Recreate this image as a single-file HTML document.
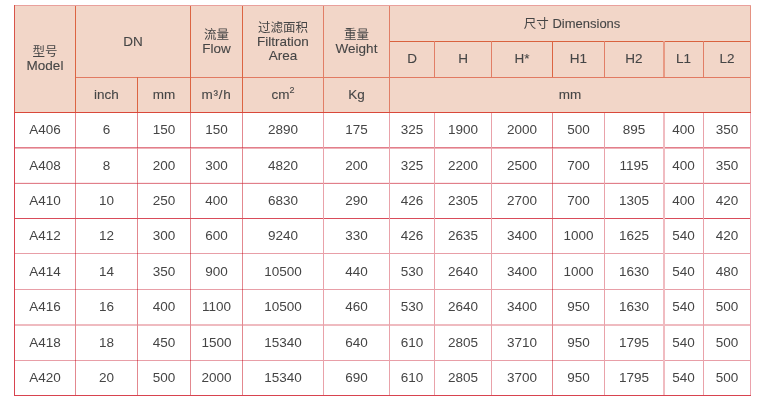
<!DOCTYPE html>
<html><head><meta charset="utf-8"><style>
html,body{margin:0;padding:0;background:#fff;width:759px;height:403px;overflow:hidden}
body{position:relative;font-family:"Liberation Sans","Noto Sans CJK SC",sans-serif;font-size:13.5px;color:#454545}
div{position:absolute}
.c{display:flex;align-items:center;justify-content:center;text-align:center;line-height:14px;white-space:nowrap}
sup{font-size:9px;line-height:0;vertical-align:6px}
.z{font-size:12.5px}
p{margin:0}
.h{-webkit-text-stroke:0.1px #4a4a4a}
.h .z{-webkit-text-stroke:0}
</style></head><body>
<div style="left:14px;top:5px;width:737px;height:107px;background:#f2d6c8"></div>
<div style="left:14px;top:5px;width:737px;height:1px;background:#e9a09c"></div>
<div style="left:389px;top:41px;width:361px;height:1px;background:#d9623e"></div>
<div style="left:75px;top:77px;width:675px;height:1px;background:#e27a62"></div>
<div style="left:14px;top:5px;width:1px;height:107px;background:#d8544a"></div>
<div style="left:75px;top:6px;width:1px;height:106px;background:#dc6442"></div>
<div style="left:137px;top:77px;width:1px;height:35px;background:#dc6442"></div>
<div style="left:190px;top:6px;width:1px;height:106px;background:#dc6442"></div>
<div style="left:242px;top:6px;width:1px;height:106px;background:#dc6442"></div>
<div style="left:323px;top:6px;width:1px;height:106px;background:#e17e66"></div>
<div style="left:389px;top:6px;width:1px;height:106px;background:#e17e66"></div>
<div style="left:434px;top:41px;width:1px;height:36px;background:#e17e66"></div>
<div style="left:491px;top:41px;width:1px;height:36px;background:#e17e66"></div>
<div style="left:552px;top:41px;width:1px;height:36px;background:#dc6442"></div>
<div style="left:604px;top:41px;width:1px;height:36px;background:#e17e66"></div>
<div style="left:663px;top:41px;width:1px;height:36px;background:#e89a84"></div>
<div style="left:664px;top:41px;width:1px;height:36px;background:#e89a84"></div>
<div style="left:703px;top:41px;width:1px;height:36px;background:#e17e66"></div>
<div style="left:750px;top:6px;width:1px;height:106px;background:#e59282"></div>
<div style="left:14px;top:147px;width:737px;height:1px;background:#e27f8b"></div>
<div style="left:14px;top:148px;width:737px;height:1px;background:#f0b2b9"></div>
<div style="left:14px;top:182px;width:737px;height:1px;background:#fbeaec"></div>
<div style="left:14px;top:183px;width:737px;height:1px;background:#e17f8a"></div>
<div style="left:14px;top:218px;width:737px;height:1px;background:#d94c5a"></div>
<div style="left:14px;top:253px;width:737px;height:1px;background:#e89ea7"></div>
<div style="left:14px;top:289px;width:737px;height:1px;background:#e89ea7"></div>
<div style="left:14px;top:324px;width:737px;height:1px;background:#efbbc0"></div>
<div style="left:14px;top:325px;width:737px;height:1px;background:#efbbc0"></div>
<div style="left:14px;top:360px;width:737px;height:1px;background:#e89ea7"></div>
<div style="left:75px;top:112px;width:1px;height:283px;background:#e3888f"></div>
<div style="left:137px;top:112px;width:1px;height:283px;background:#e3888f"></div>
<div style="left:190px;top:112px;width:1px;height:283px;background:#e3888f"></div>
<div style="left:242px;top:112px;width:1px;height:283px;background:#e3888f"></div>
<div style="left:323px;top:112px;width:1px;height:283px;background:#e9a2aa"></div>
<div style="left:389px;top:112px;width:1px;height:283px;background:#e9a2aa"></div>
<div style="left:434px;top:112px;width:1px;height:283px;background:#e9a2aa"></div>
<div style="left:491px;top:112px;width:1px;height:283px;background:#e9a2aa"></div>
<div style="left:552px;top:112px;width:1px;height:283px;background:#e3888f"></div>
<div style="left:604px;top:112px;width:1px;height:283px;background:#e9a2aa"></div>
<div style="left:663px;top:112px;width:1px;height:283px;background:#f0bcc1"></div>
<div style="left:664px;top:112px;width:1px;height:283px;background:#f0bcc1"></div>
<div style="left:703px;top:112px;width:1px;height:283px;background:#e9a2aa"></div>
<div style="left:75px;top:147px;width:1px;height:1px;background:#d84c5a"></div>
<div style="left:137px;top:147px;width:1px;height:1px;background:#d84c5a"></div>
<div style="left:190px;top:147px;width:1px;height:1px;background:#d84c5a"></div>
<div style="left:242px;top:147px;width:1px;height:1px;background:#d84c5a"></div>
<div style="left:552px;top:147px;width:1px;height:1px;background:#d84c5a"></div>
<div style="left:75px;top:183px;width:1px;height:1px;background:#d84c5a"></div>
<div style="left:137px;top:183px;width:1px;height:1px;background:#d84c5a"></div>
<div style="left:190px;top:183px;width:1px;height:1px;background:#d84c5a"></div>
<div style="left:242px;top:183px;width:1px;height:1px;background:#d84c5a"></div>
<div style="left:552px;top:183px;width:1px;height:1px;background:#d84c5a"></div>
<div style="left:75px;top:218px;width:1px;height:1px;background:#d84c5a"></div>
<div style="left:137px;top:218px;width:1px;height:1px;background:#d84c5a"></div>
<div style="left:190px;top:218px;width:1px;height:1px;background:#d84c5a"></div>
<div style="left:242px;top:218px;width:1px;height:1px;background:#d84c5a"></div>
<div style="left:552px;top:218px;width:1px;height:1px;background:#d84c5a"></div>
<div style="left:75px;top:253px;width:1px;height:1px;background:#d84c5a"></div>
<div style="left:137px;top:253px;width:1px;height:1px;background:#d84c5a"></div>
<div style="left:190px;top:253px;width:1px;height:1px;background:#d84c5a"></div>
<div style="left:242px;top:253px;width:1px;height:1px;background:#d84c5a"></div>
<div style="left:552px;top:253px;width:1px;height:1px;background:#d84c5a"></div>
<div style="left:75px;top:289px;width:1px;height:1px;background:#d84c5a"></div>
<div style="left:137px;top:289px;width:1px;height:1px;background:#d84c5a"></div>
<div style="left:190px;top:289px;width:1px;height:1px;background:#d84c5a"></div>
<div style="left:242px;top:289px;width:1px;height:1px;background:#d84c5a"></div>
<div style="left:552px;top:289px;width:1px;height:1px;background:#d84c5a"></div>
<div style="left:75px;top:360px;width:1px;height:1px;background:#d84c5a"></div>
<div style="left:137px;top:360px;width:1px;height:1px;background:#d84c5a"></div>
<div style="left:190px;top:360px;width:1px;height:1px;background:#d84c5a"></div>
<div style="left:242px;top:360px;width:1px;height:1px;background:#d84c5a"></div>
<div style="left:552px;top:360px;width:1px;height:1px;background:#d84c5a"></div>
<div style="left:14px;top:112px;width:1px;height:284px;background:#d8434f"></div>
<div style="left:750px;top:112px;width:1px;height:284px;background:#eba2ac"></div>
<div style="left:14px;top:395px;width:737px;height:1px;background:#d8434f"></div>
<div style="left:14px;top:112px;width:737px;height:1px;background:#d9483a"></div>
<div class="c h" style="left:15px;top:6px;width:60px;height:106px;"><p><span class=z>型号</span><br>Model</p></div>
<div class="c h" style="left:76px;top:6px;width:114px;height:71px;"><p>DN</p></div>
<div class="c h" style="left:191px;top:6px;width:51px;height:71px;"><p><span class=z>流量</span><br>Flow</p></div>
<div class="c h" style="left:243px;top:6px;width:80px;height:71px;"><p><span class=z>过滤面积</span><br>Filtration<br>Area</p></div>
<div class="c h" style="left:324px;top:6px;width:65px;height:71px;"><p><span class=z>重量</span><br>Weight</p></div>
<div class="c h" style="left:390px;top:6px;width:360px;height:35px;padding-left:4px;box-sizing:border-box"><p><span class=z>尺寸</span> <span style="font-size:13px">Dimensions</span></p></div>
<div class="c h" style="left:390px;top:42px;width:44px;height:34px;"><p>D</p></div>
<div class="c h" style="left:435px;top:42px;width:56px;height:34px;"><p>H</p></div>
<div class="c h" style="left:492px;top:42px;width:60px;height:34px;"><p>H*</p></div>
<div class="c h" style="left:553px;top:42px;width:51px;height:34px;"><p>H1</p></div>
<div class="c h" style="left:605px;top:42px;width:58px;height:34px;"><p>H2</p></div>
<div class="c h" style="left:664px;top:42px;width:39px;height:34px;"><p>L1</p></div>
<div class="c h" style="left:704px;top:42px;width:46px;height:34px;"><p>L2</p></div>
<div class="c h" style="left:76px;top:78px;width:61px;height:34px;"><p>inch</p></div>
<div class="c h" style="left:138px;top:78px;width:52px;height:34px;"><p>mm</p></div>
<div class="c h" style="left:191px;top:78px;width:51px;height:34px;"><p><span style="letter-spacing:0.7px">m³/h</span></p></div>
<div class="c h" style="left:243px;top:78px;width:80px;height:34px;"><p>cm<sup>2</sup></p></div>
<div class="c h" style="left:324px;top:78px;width:65px;height:34px;"><p>Kg</p></div>
<div class="c h" style="left:390px;top:78px;width:360px;height:34px;"><p>mm</p></div>
<div class="c" style="left:15px;top:113px;width:60px;height:34px;"><p>A406</p></div>
<div class="c" style="left:76px;top:113px;width:61px;height:34px;"><p>6</p></div>
<div class="c" style="left:138px;top:113px;width:52px;height:34px;"><p>150</p></div>
<div class="c" style="left:191px;top:113px;width:51px;height:34px;"><p>150</p></div>
<div class="c" style="left:243px;top:113px;width:80px;height:34px;"><p>2890</p></div>
<div class="c" style="left:324px;top:113px;width:65px;height:34px;"><p>175</p></div>
<div class="c" style="left:390px;top:113px;width:44px;height:34px;"><p>325</p></div>
<div class="c" style="left:435px;top:113px;width:56px;height:34px;"><p>1900</p></div>
<div class="c" style="left:492px;top:113px;width:60px;height:34px;"><p>2000</p></div>
<div class="c" style="left:553px;top:113px;width:51px;height:34px;"><p>500</p></div>
<div class="c" style="left:605px;top:113px;width:58px;height:34px;"><p>895</p></div>
<div class="c" style="left:664px;top:113px;width:39px;height:34px;"><p>400</p></div>
<div class="c" style="left:704px;top:113px;width:46px;height:34px;"><p>350</p></div>
<div class="c" style="left:15px;top:148px;width:60px;height:35px;"><p>A408</p></div>
<div class="c" style="left:76px;top:148px;width:61px;height:35px;"><p>8</p></div>
<div class="c" style="left:138px;top:148px;width:52px;height:35px;"><p>200</p></div>
<div class="c" style="left:191px;top:148px;width:51px;height:35px;"><p>300</p></div>
<div class="c" style="left:243px;top:148px;width:80px;height:35px;"><p>4820</p></div>
<div class="c" style="left:324px;top:148px;width:65px;height:35px;"><p>200</p></div>
<div class="c" style="left:390px;top:148px;width:44px;height:35px;"><p>325</p></div>
<div class="c" style="left:435px;top:148px;width:56px;height:35px;"><p>2200</p></div>
<div class="c" style="left:492px;top:148px;width:60px;height:35px;"><p>2500</p></div>
<div class="c" style="left:553px;top:148px;width:51px;height:35px;"><p>700</p></div>
<div class="c" style="left:605px;top:148px;width:58px;height:35px;"><p>1195</p></div>
<div class="c" style="left:664px;top:148px;width:39px;height:35px;"><p>400</p></div>
<div class="c" style="left:704px;top:148px;width:46px;height:35px;"><p>350</p></div>
<div class="c" style="left:15px;top:184px;width:60px;height:34px;"><p>A410</p></div>
<div class="c" style="left:76px;top:184px;width:61px;height:34px;"><p>10</p></div>
<div class="c" style="left:138px;top:184px;width:52px;height:34px;"><p>250</p></div>
<div class="c" style="left:191px;top:184px;width:51px;height:34px;"><p>400</p></div>
<div class="c" style="left:243px;top:184px;width:80px;height:34px;"><p>6830</p></div>
<div class="c" style="left:324px;top:184px;width:65px;height:34px;"><p>290</p></div>
<div class="c" style="left:390px;top:184px;width:44px;height:34px;"><p>426</p></div>
<div class="c" style="left:435px;top:184px;width:56px;height:34px;"><p>2305</p></div>
<div class="c" style="left:492px;top:184px;width:60px;height:34px;"><p>2700</p></div>
<div class="c" style="left:553px;top:184px;width:51px;height:34px;"><p>700</p></div>
<div class="c" style="left:605px;top:184px;width:58px;height:34px;"><p>1305</p></div>
<div class="c" style="left:664px;top:184px;width:39px;height:34px;"><p>400</p></div>
<div class="c" style="left:704px;top:184px;width:46px;height:34px;"><p>420</p></div>
<div class="c" style="left:15px;top:219px;width:60px;height:34px;"><p>A412</p></div>
<div class="c" style="left:76px;top:219px;width:61px;height:34px;"><p>12</p></div>
<div class="c" style="left:138px;top:219px;width:52px;height:34px;"><p>300</p></div>
<div class="c" style="left:191px;top:219px;width:51px;height:34px;"><p>600</p></div>
<div class="c" style="left:243px;top:219px;width:80px;height:34px;"><p>9240</p></div>
<div class="c" style="left:324px;top:219px;width:65px;height:34px;"><p>330</p></div>
<div class="c" style="left:390px;top:219px;width:44px;height:34px;"><p>426</p></div>
<div class="c" style="left:435px;top:219px;width:56px;height:34px;"><p>2635</p></div>
<div class="c" style="left:492px;top:219px;width:60px;height:34px;"><p>3400</p></div>
<div class="c" style="left:553px;top:219px;width:51px;height:34px;"><p>1000</p></div>
<div class="c" style="left:605px;top:219px;width:58px;height:34px;"><p>1625</p></div>
<div class="c" style="left:664px;top:219px;width:39px;height:34px;"><p>540</p></div>
<div class="c" style="left:704px;top:219px;width:46px;height:34px;"><p>420</p></div>
<div class="c" style="left:15px;top:254px;width:60px;height:35px;"><p>A414</p></div>
<div class="c" style="left:76px;top:254px;width:61px;height:35px;"><p>14</p></div>
<div class="c" style="left:138px;top:254px;width:52px;height:35px;"><p>350</p></div>
<div class="c" style="left:191px;top:254px;width:51px;height:35px;"><p>900</p></div>
<div class="c" style="left:243px;top:254px;width:80px;height:35px;"><p>10500</p></div>
<div class="c" style="left:324px;top:254px;width:65px;height:35px;"><p>440</p></div>
<div class="c" style="left:390px;top:254px;width:44px;height:35px;"><p>530</p></div>
<div class="c" style="left:435px;top:254px;width:56px;height:35px;"><p>2640</p></div>
<div class="c" style="left:492px;top:254px;width:60px;height:35px;"><p>3400</p></div>
<div class="c" style="left:553px;top:254px;width:51px;height:35px;"><p>1000</p></div>
<div class="c" style="left:605px;top:254px;width:58px;height:35px;"><p>1630</p></div>
<div class="c" style="left:664px;top:254px;width:39px;height:35px;"><p>540</p></div>
<div class="c" style="left:704px;top:254px;width:46px;height:35px;"><p>480</p></div>
<div class="c" style="left:15px;top:290px;width:60px;height:34px;"><p>A416</p></div>
<div class="c" style="left:76px;top:290px;width:61px;height:34px;"><p>16</p></div>
<div class="c" style="left:138px;top:290px;width:52px;height:34px;"><p>400</p></div>
<div class="c" style="left:191px;top:290px;width:51px;height:34px;"><p>1100</p></div>
<div class="c" style="left:243px;top:290px;width:80px;height:34px;"><p>10500</p></div>
<div class="c" style="left:324px;top:290px;width:65px;height:34px;"><p>460</p></div>
<div class="c" style="left:390px;top:290px;width:44px;height:34px;"><p>530</p></div>
<div class="c" style="left:435px;top:290px;width:56px;height:34px;"><p>2640</p></div>
<div class="c" style="left:492px;top:290px;width:60px;height:34px;"><p>3400</p></div>
<div class="c" style="left:553px;top:290px;width:51px;height:34px;"><p>950</p></div>
<div class="c" style="left:605px;top:290px;width:58px;height:34px;"><p>1630</p></div>
<div class="c" style="left:664px;top:290px;width:39px;height:34px;"><p>540</p></div>
<div class="c" style="left:704px;top:290px;width:46px;height:34px;"><p>500</p></div>
<div class="c" style="left:15px;top:325px;width:60px;height:35px;"><p>A418</p></div>
<div class="c" style="left:76px;top:325px;width:61px;height:35px;"><p>18</p></div>
<div class="c" style="left:138px;top:325px;width:52px;height:35px;"><p>450</p></div>
<div class="c" style="left:191px;top:325px;width:51px;height:35px;"><p>1500</p></div>
<div class="c" style="left:243px;top:325px;width:80px;height:35px;"><p>15340</p></div>
<div class="c" style="left:324px;top:325px;width:65px;height:35px;"><p>640</p></div>
<div class="c" style="left:390px;top:325px;width:44px;height:35px;"><p>610</p></div>
<div class="c" style="left:435px;top:325px;width:56px;height:35px;"><p>2805</p></div>
<div class="c" style="left:492px;top:325px;width:60px;height:35px;"><p>3710</p></div>
<div class="c" style="left:553px;top:325px;width:51px;height:35px;"><p>950</p></div>
<div class="c" style="left:605px;top:325px;width:58px;height:35px;"><p>1795</p></div>
<div class="c" style="left:664px;top:325px;width:39px;height:35px;"><p>540</p></div>
<div class="c" style="left:704px;top:325px;width:46px;height:35px;"><p>500</p></div>
<div class="c" style="left:15px;top:361px;width:60px;height:34px;"><p>A420</p></div>
<div class="c" style="left:76px;top:361px;width:61px;height:34px;"><p>20</p></div>
<div class="c" style="left:138px;top:361px;width:52px;height:34px;"><p>500</p></div>
<div class="c" style="left:191px;top:361px;width:51px;height:34px;"><p>2000</p></div>
<div class="c" style="left:243px;top:361px;width:80px;height:34px;"><p>15340</p></div>
<div class="c" style="left:324px;top:361px;width:65px;height:34px;"><p>690</p></div>
<div class="c" style="left:390px;top:361px;width:44px;height:34px;"><p>610</p></div>
<div class="c" style="left:435px;top:361px;width:56px;height:34px;"><p>2805</p></div>
<div class="c" style="left:492px;top:361px;width:60px;height:34px;"><p>3700</p></div>
<div class="c" style="left:553px;top:361px;width:51px;height:34px;"><p>950</p></div>
<div class="c" style="left:605px;top:361px;width:58px;height:34px;"><p>1795</p></div>
<div class="c" style="left:664px;top:361px;width:39px;height:34px;"><p>540</p></div>
<div class="c" style="left:704px;top:361px;width:46px;height:34px;"><p>500</p></div>
</body></html>
